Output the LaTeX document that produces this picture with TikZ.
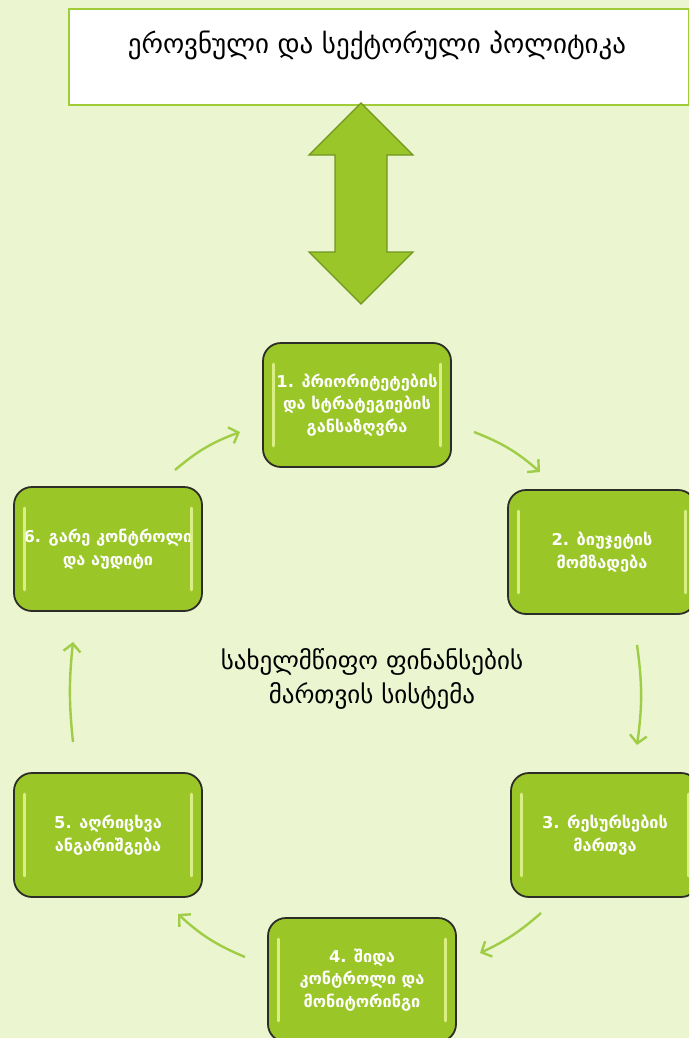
\documentclass[tikz,border=0pt]{standalone}
\usepackage{fontspec}
\setmainfont{DejaVu Sans}
\usetikzlibrary{arrows.meta}
\definecolor{bgc}{RGB}{235,245,208}
\definecolor{boxg}{RGB}{155,198,40}
\definecolor{boxb}{RGB}{45,45,40}
\definecolor{hlc}{RGB}{228,246,150}
\definecolor{arrc}{RGB}{160,205,70}
\definecolor{dag}{RGB}{154,198,42}
\definecolor{dab}{RGB}{112,150,30}
\definecolor{topb}{RGB}{160,205,55}
\tikzset{
  stepbox/.style={draw=boxb, line width=1.8pt, fill=boxg, rounded corners=18pt,
    minimum width=188pt, minimum height=124pt, text=white, align=center,
    font=\bfseries\fontsize{16.3}{22.5}\selectfont, inner sep=0pt},
  hl/.style={draw=hlc, line width=3pt, line cap=round, opacity=0.85},
  conn/.style={draw=arrc, line width=2.4pt, -{Straight Barb[length=8pt,width=17pt,line width=2.4pt]}},
}
\newcommand{\hilite}[1]{%
  \draw[hl] ([xshift=11pt,yshift=-22pt]#1.north west) -- ([xshift=11pt,yshift=22pt]#1.south west);
  \draw[hl] ([xshift=-11pt,yshift=-22pt]#1.north east) -- ([xshift=-11pt,yshift=22pt]#1.south east);
}
\begin{document}
\begin{tikzpicture}[x=1pt,y=-1pt]
\useasboundingbox (0,0) rectangle (689,1038);
\clip (0,0) rectangle (689,1038);
\fill[bgc] (0,0) rectangle (689,1038);
% top box
\node[draw=topb, line width=2pt, fill=white, minimum width=620pt, minimum height=96pt, anchor=north west, inner sep=0pt] (top) at (68,8) {};
\node[font=\fontsize{27}{30}\selectfont] (toptext) at (377,45) {ეროვნული და სექტორული პოლიტიკა};
% double arrow
\draw[fill=dag, draw=dab, line width=1.2pt, line join=miter]
  (361,103) -- (413,155) -- (387,155) -- (387,252) -- (413,252) -- (361,304)
  -- (309,252) -- (335,252) -- (335,155) -- (309,155) -- cycle;
% boxes
\node[stepbox] (b1) at (357,405) {1. პრიორიტეტების\\და სტრატეგიების\\განსაზღვრა};
\node[stepbox] (b2) at (602,552) {2. ბიუჯეტის\\მომზადება};
\node[stepbox] (b3) at (605,835) {3. რესურსების\\მართვა};
\node[stepbox] (b4) at (362,980) {4. შიდა\\კონტროლი და\\მონიტორინგი};
\node[stepbox] (b5) at (108,835) {5. აღრიცხვა\\ანგარიშგება};
\node[stepbox] (b6) at (108,549) {6. გარე კონტროლი\\და აუდიტი};
\hilite{b1}\hilite{b2}\hilite{b3}\hilite{b4}\hilite{b5}\hilite{b6}
% center text
\node[align=center, font=\fontsize{25}{34}\selectfont] (center) at (372,679) {სახელმწიფო ფინანსების\\მართვის სისტემა};
% connectors
\coordinate (a61) at (175,470); \coordinate (e61) at (240,432);
\coordinate (a12) at (474,432); \coordinate (e12) at (540,472);
\coordinate (a23) at (637,645); \coordinate (e23) at (637,745);
\coordinate (a34) at (541,913); \coordinate (e34) at (480,953);
\coordinate (a45) at (245,957); \coordinate (e45) at (178,914);
\coordinate (a56) at (73,742); \coordinate (e56) at (73,642);
\draw[conn] (a61) to[bend left=10] (e61);
\draw[conn] (a12) to[bend left=10] (e12);
\draw[conn] (a23) to[bend left=8] (e23);
\draw[conn] (a34) to[bend left=8] (e34);
\draw[conn] (a45) to[bend left=10] (e45);
\draw[conn] (a56) to[bend left=6] (e56);
\end{tikzpicture}
\end{document}
